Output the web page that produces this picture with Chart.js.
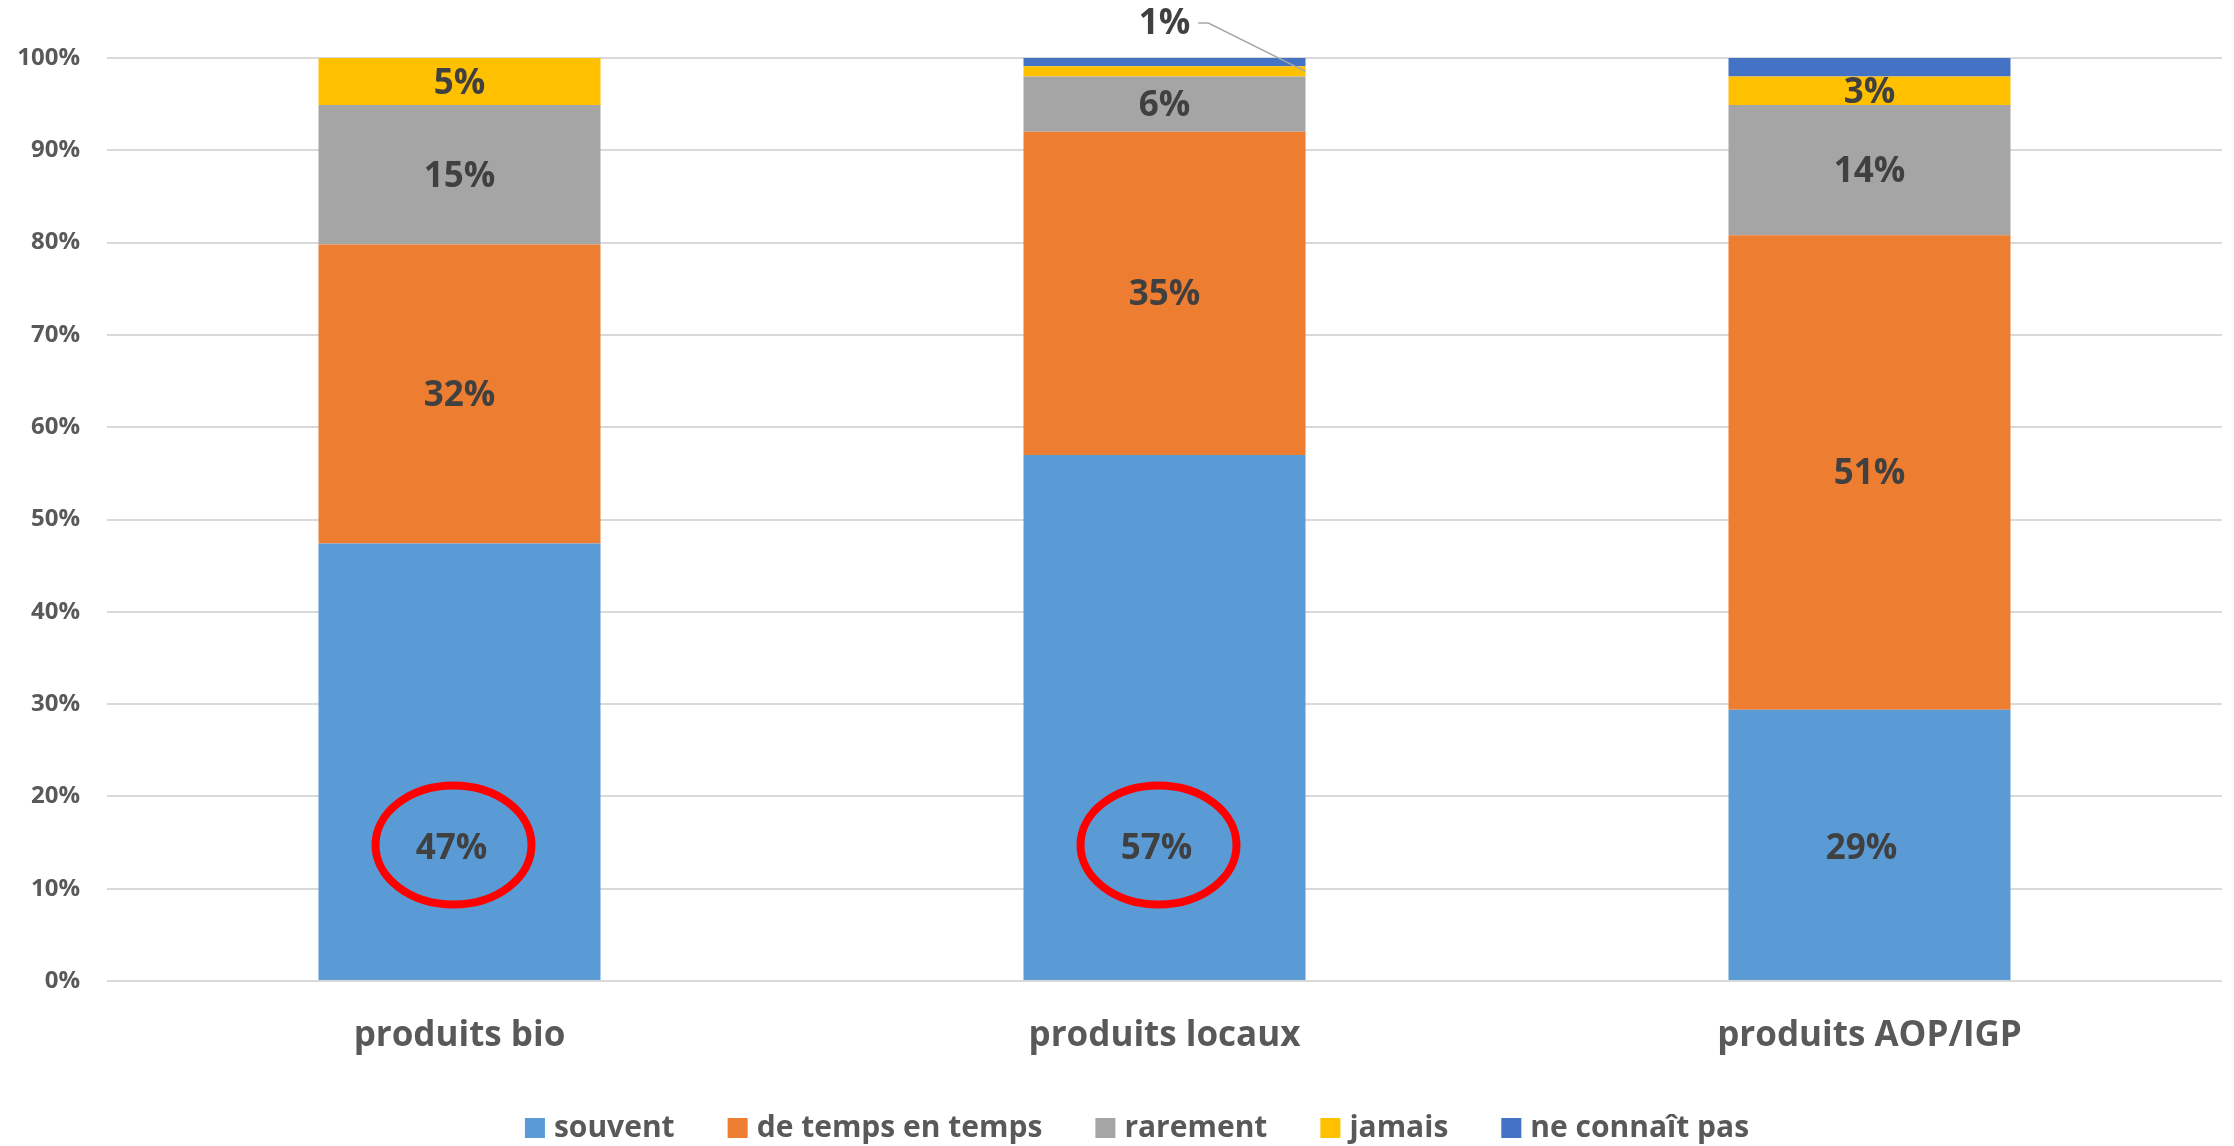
<!DOCTYPE html>
<html>
<head>
<meta charset="utf-8">
<script src="https://cdn.jsdelivr.net/npm/chart.js@4.4.0/dist/chart.umd.min.js"></script>
<style>
  html, body { margin: 0; padding: 0; background: #ffffff; }
  #wrap { width: 2234px; height: 1146px; position: relative; }
</style>
</head>
<body>
<div id="wrap"><canvas id="chart"></canvas></div>
<script>
// ---- Data ----
const categories = ['produits bio', 'produits locaux', 'produits AOP/IGP'];
const seriesNames = ['souvent', 'de temps en temps', 'rarement', 'jamais', 'ne connaît pas'];
const souvent = [47.4, 57.0, 29.4];
const deTempsEnTemps = [32.4, 35.0, 51.4];
const rarement = [15.1, 6.0, 14.1];
const jamais = [5.1, 1.1, 3.1];
const neConnaitPas = [0, 0.9, 2.0];
const yTickValues = [0, 10, 20, 30, 40, 50, 60, 70, 80, 90, 100];
const circledCategories = [0, 1];

const seriesValues = [souvent, deTempsEnTemps, rarement, jamais, neConnaitPas];
const seriesColors = ['#5B9BD5', '#ED7D31', '#A5A5A5', '#FFC000', '#4472C4'];
const seriesLabelled = [true, true, true, true, false];

const FONT = '"Open Sans", "DejaVu Sans", sans-serif';

const segmentLabels = {
  id: 'segmentLabels',
  afterDatasetsDraw(chart, args, opts) {
    const ctx = chart.ctx;
    const yScale = chart.scales.y;
    const area = chart.chartArea;
    ctx.save();
    ctx.font = 'bold 35px ' + FONT;
    ctx.fillStyle = '#404040';
    ctx.textAlign = 'center';
    ctx.textBaseline = 'middle';
    chart.data.datasets.forEach((ds, di) => {
      if (!seriesLabelled[di]) return;
      const meta = chart.getDatasetMeta(di);
      meta.data.forEach((bar, i) => {
        const v = ds.data[i];
        if (!v) return;
        const txt = Math.round(v) + '%';
        const p = bar.getProps(['x', 'y', 'base', 'width'], true);
        const mid = (p.y + p.base) / 2;
        if (v < 2) {
          // callout label above the chart with a leader line
          const lx = p.x, ly = area.top - 34;
          ctx.fillStyle = '#404040';
          ctx.fillText(txt, lx, ly);
          const w = ctx.measureText(txt).width;
          ctx.beginPath();
          ctx.strokeStyle = '#A6A6A6';
          ctx.lineWidth = 1.5;
          ctx.moveTo(lx + w / 2 + 8, ly - 1);
          ctx.lineTo(lx + w / 2 + 18, ly - 1);
          ctx.lineTo(p.x + p.width / 2, mid);
          ctx.stroke();
        } else {
          let lx = p.x, ly = mid + 2;
          if (di === 0) {
            ly = yScale.getPixelForValue(opts.souventLabelAt);
            lx = p.x + opts.souventDx;
          }
          ctx.fillText(txt, lx, ly);
          if (di === 0 && circledCategories.includes(i)) {
            ctx.beginPath();
            ctx.strokeStyle = '#FF0000';
            ctx.lineWidth = 8;
            ctx.ellipse(lx + 2, ly - 4, 78, 59.5, 0, 0, Math.PI * 2);
            ctx.stroke();
          }
        }
      });
    });
    ctx.restore();
  }
};

const customLegend = {
  id: 'customLegend',
  afterDraw(chart, args, opts) {
    const ctx = chart.ctx;
    ctx.save();
    ctx.font = 'bold 30px ' + FONT;
    ctx.textBaseline = 'middle';
    ctx.textAlign = 'left';
    const box = 20, gapText = 9, gapItem = 53;
    const items = chart.data.datasets.map(ds => ({ text: ds.label, color: ds.backgroundColor, w: ctx.measureText(ds.label).width }));
    const total = items.reduce((s, it) => s + box + gapText + it.w, 0) + gapItem * (items.length - 1);
    let x = opts.centerX - total / 2;
    const y = opts.centerY;
    items.forEach(it => {
      ctx.fillStyle = it.color;
      ctx.fillRect(x, y - box / 2, box, box);
      ctx.fillStyle = '#595959';
      ctx.fillText(it.text, x + box + gapText, y);
      x += box + gapText + it.w + gapItem;
    });
    ctx.restore();
  }
};

const datasets = seriesNames.map((name, k) => ({
  label: name,
  data: seriesValues[k],
  backgroundColor: seriesColors[k],
  borderWidth: 0,
  barPercentage: 0.4,
  categoryPercentage: 1.0
}));

new Chart(document.getElementById('chart'), {
  type: 'bar',
  data: { labels: categories, datasets },
  plugins: [segmentLabels, customLegend],
  options: {
    responsive: true,
    maintainAspectRatio: false,
    animation: false,
    layout: { padding: { top: 58, right: 12, left: 0, bottom: 0 } },
    plugins: {
      legend: { display: false },
      tooltip: { enabled: false },
      segmentLabels: { souventLabelAt: 14.3, souventDx: -8 },
      customLegend: { centerX: 1137, centerY: 1128 }
    },
    scales: {
      x: {
        stacked: true,
        grid: { display: false, drawTicks: false },
        border: { display: false },
        ticks: { color: '#595959', font: { family: FONT, size: 35, weight: 'bold' }, padding: 34 },
        afterFit(scale) { scale.height = 165; }
      },
      y: {
        stacked: true,
        min: 0, max: 100,
        afterBuildTicks(scale) { scale.ticks = yTickValues.map(v => ({ value: v })); },
        grid: { color: '#D9D9D9', lineWidth: 2, drawTicks: false },
        border: { display: false },
        ticks: { color: '#595959', font: { family: FONT, size: 24, weight: 'bold' }, padding: 27, callback: v => v + '%' },
        afterFit(scale) { scale.width = 107; }
      }
    }
  }
});
</script>
</body>
</html>
